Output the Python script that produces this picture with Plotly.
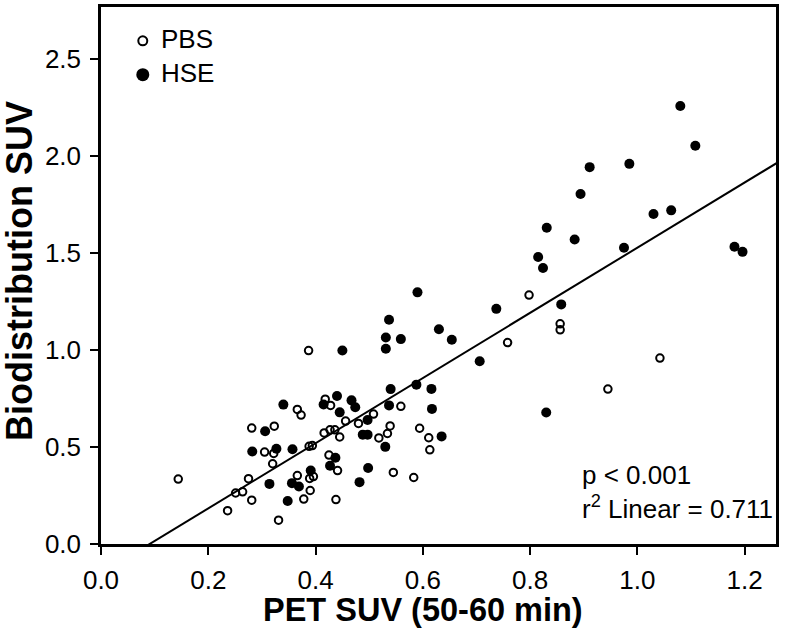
import plotly.graph_objects as go

# PBS group (open circles)
pbs_x = [0.144, 0.236, 0.251, 0.264, 0.275, 0.281, 0.281, 0.305, 0.322, 0.320,
         0.323, 0.331, 0.366, 0.373, 0.366, 0.378, 0.388, 0.394, 0.387, 0.389,
         0.396, 0.390, 0.418, 0.428, 0.416, 0.427, 0.436, 0.445, 0.425, 0.441,
         0.438, 0.456, 0.480, 0.508, 0.518, 0.534, 0.539, 0.559, 0.545, 0.594,
         0.583, 0.611, 0.613, 0.758, 0.798, 0.856, 0.856, 1.042, 0.945]
pbs_y = [0.335, 0.172, 0.263, 0.269, 0.337, 0.226, 0.598, 0.474, 0.467, 0.414,
         0.608, 0.123, 0.694, 0.665, 0.353, 0.232, 0.504, 0.508, 0.998, 0.338,
         0.348, 0.276, 0.747, 0.715, 0.573, 0.589, 0.589, 0.552, 0.459, 0.379,
         0.229, 0.634, 0.622, 0.670, 0.547, 0.570, 0.609, 0.710, 0.369, 0.597,
         0.343, 0.548, 0.486, 1.039, 1.284, 1.136, 1.105, 0.959, 0.799]

# HSE group (filled circles)
hse_x = [1.080, 1.108, 0.911, 0.985, 0.894, 1.030, 1.063, 0.831, 0.883, 0.975,
         1.181, 1.196, 0.815, 0.824, 0.590, 0.737, 0.858, 0.537, 0.630, 0.531,
         0.559, 0.654, 0.531, 0.450, 0.706, 0.830, 0.588, 0.616, 0.540, 0.617,
         0.537, 0.635, 0.340, 0.415, 0.440, 0.467, 0.474, 0.445, 0.497, 0.488,
         0.497, 0.306, 0.327, 0.357, 0.282, 0.530, 0.437, 0.427, 0.391, 0.498,
         0.314, 0.356, 0.369, 0.482, 0.348]
hse_y = [2.259, 2.054, 1.944, 1.961, 1.805, 1.702, 1.721, 1.631, 1.571, 1.528,
         1.533, 1.507, 1.480, 1.424, 1.298, 1.213, 1.236, 1.157, 1.108, 1.065,
         1.057, 1.054, 1.007, 0.998, 0.943, 0.678, 0.822, 0.800, 0.799, 0.697,
         0.715, 0.555, 0.719, 0.720, 0.763, 0.741, 0.705, 0.679, 0.640, 0.564,
         0.564, 0.582, 0.491, 0.489, 0.477, 0.501, 0.445, 0.404, 0.379, 0.392,
         0.310, 0.314, 0.297, 0.319, 0.222]

# linear fit
fit_slope = 1.681
fit_intercept = -0.1525
fit_x = [0.0, 1.3]
p_text = "p &lt; 0.001"
r2_text = "r<sup>2</sup> Linear = 0.711"

x_range = [0, 1.2584]
y_range = [0, 2.77]
x_ticks = [0, 0.2, 0.4, 0.6, 0.8, 1.0, 1.2]
y_ticks = [0, 0.5, 1.0, 1.5, 2.0, 2.5]

FONT = "Liberation Sans, Arial, Helvetica, sans-serif"
BLACK = "black"

fig = go.Figure()

fig.add_trace(go.Scatter(
    x=fit_x, y=[fit_slope * v + fit_intercept for v in fit_x],
    mode="lines", line=dict(color=BLACK, width=2),
    showlegend=False, hoverinfo="skip"))

fig.add_trace(go.Scatter(
    x=pbs_x, y=pbs_y, mode="markers", name="PBS", showlegend=False,
    marker=dict(symbol="circle-open", size=7.5, color=BLACK,
                line=dict(color=BLACK, width=2))))

fig.add_trace(go.Scatter(
    x=hse_x, y=hse_y, mode="markers", name="HSE", showlegend=False,
    marker=dict(symbol="circle", size=10, color=BLACK)))

# hand made key in the top left corner
key_x = 0.0619
for name, ky, filled, r in [("PBS", 0.937, False, 4.5), ("HSE", 0.874, True, 6.5)]:
    fig.add_shape(type="circle", xref="paper", yref="paper",
                  xsizemode="pixel", ysizemode="pixel",
                  xanchor=key_x, yanchor=ky, x0=-r, x1=r, y0=-r, y1=r,
                  line=dict(color=BLACK, width=2 if not filled else 0),
                  fillcolor=BLACK if filled else "rgba(0,0,0,0)")
    fig.add_annotation(x=0.0856, y=ky + 0.003, xref="paper", yref="paper",
                       text=name, showarrow=False, xanchor="left", yanchor="middle",
                       font=dict(size=26, color=BLACK, family=FONT))

fig.add_annotation(x=0.709, y=0.128, xref="paper", yref="paper",
                   text=p_text, showarrow=False, xanchor="left", yanchor="middle",
                   font=dict(size=26, color=BLACK, family=FONT))
fig.add_annotation(x=0.709, y=0.068, xref="paper", yref="paper",
                   text=r2_text, showarrow=False, xanchor="left", yanchor="middle",
                   font=dict(size=26, color=BLACK, family=FONT))

# axis titles
fig.add_annotation(x=0.477, y=-0.1226, xref="paper", yref="paper",
                   text="<b>PET SUV (50-60 min)</b>", showarrow=False,
                   xanchor="center", yanchor="middle",
                   font=dict(size=32.5, color=BLACK, family=FONT))
fig.add_annotation(x=-0.121, y=0.509, xref="paper", yref="paper",
                   text="<b>Biodistribution SUV</b>", showarrow=False,
                   textangle=-90, xanchor="center", yanchor="middle",
                   font=dict(size=36, color=BLACK, family=FONT))

axis_common = dict(
    showline=True, linecolor=BLACK, linewidth=2.5, mirror=True,
    showgrid=False, zeroline=False,
    ticks="outside", ticklen=8, tickwidth=2, tickcolor=BLACK,
    tickfont=dict(size=26, color=BLACK, family=FONT),
    tickformat=".1f",
)

fig.update_xaxes(range=x_range, tickvals=x_ticks, ticklabelstandoff=3, **axis_common)
fig.update_yaxes(range=y_range, tickvals=y_ticks, ticklabelstandoff=4, **axis_common)

fig.update_layout(
    width=786, height=628,
    margin=dict(l=101, r=10, t=4, b=84),
    plot_bgcolor="white", paper_bgcolor="white",
    font=dict(family=FONT, color=BLACK),
    showlegend=False,
)

fig.write_html("out.html", config={"displayModeBar": False},
               post_script="document.body.style.margin='0';")
